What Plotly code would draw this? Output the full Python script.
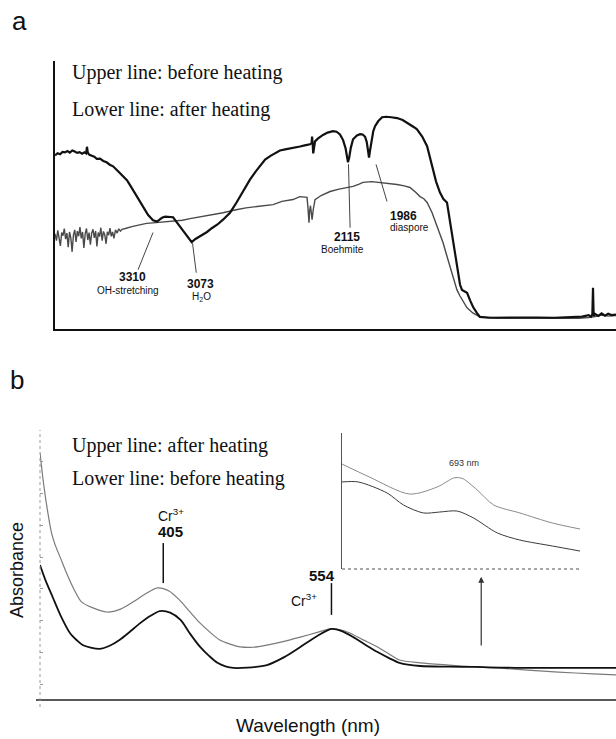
import plotly.graph_objects as go

# ---------------- Panel a : IR spectra (wavenumber, cm-1; arbitrary transmittance units)
a_before_wn = [3911, 3895, 3880, 3865, 3850, 3835, 3820, 3805, 3790, 3775,
               3760, 3745, 3730, 3720, 3715, 3710, 3700, 3685, 3670, 3655,
               3635, 3615, 3595, 3575, 3555, 3535, 3510, 3490, 3470, 3450,
               3430, 3408, 3390, 3365, 3340, 3310, 3285, 3270, 3255, 3236,
               3210, 3187, 3163, 3140, 3120, 3100, 3073, 3050, 3020, 2979,
               2950, 2915, 2881, 2838, 2800, 2760, 2715, 2680, 2650, 2623,
               2590, 2560, 2532, 2500, 2470, 2440, 2409, 2380, 2348, 2338,
               2335, 2331, 2328, 2317, 2300, 2268, 2240, 2207, 2185, 2164,
               2145, 2130, 2122, 2115, 2108, 2098, 2084, 2060, 2041, 2025,
               2010, 2000, 1992, 1986, 1980, 1970, 1960, 1949, 1930, 1906,
               1880, 1850, 1814, 1780, 1760, 1735, 1710, 1692, 1660, 1630,
               1610, 1594, 1575, 1551, 1530, 1508, 1490, 1471, 1455, 1440,
               1428, 1416, 1400, 1385, 1365, 1348, 1325, 1306, 1250, 1150,
               1050, 950, 850, 750, 680, 640, 625, 617, 613, 609,
               600, 580, 560, 540, 520, 500, 472]
a_before_t = [64.8, 65.6, 65.2, 66.1, 65.9, 66.4, 65.8, 66.6, 66.2, 65.7,
              66.0, 65.4, 65.9, 65.5, 68.0, 65.8, 65.0, 64.6, 64.3, 63.5,
              63.6, 62.7, 62.2, 61.3, 60.7, 59.5, 58.0, 56.8, 55.5, 53.6,
              51.5, 49.3, 47.2, 44.8, 42.5, 40.6, 40.1, 40.8, 41.5, 41.9,
              41.9, 41.7, 39.7, 37.8, 36.0, 34.2, 32.4, 33.6, 34.6, 36.2,
              37.6, 39.0, 40.8, 43.4, 47.0, 51.4, 55.8, 58.8, 61.3, 63.2,
              64.6, 65.6, 66.6, 67.0, 67.3, 67.6, 68.1, 68.5, 68.9, 69.4,
              71.8, 68.6, 65.5, 70.0, 71.0, 72.4, 73.3, 73.8, 73.6, 72.6,
              70.5, 67.5, 63.8, 62.2, 63.8, 67.5, 70.8, 72.2, 72.7, 72.6,
              71.7, 69.8, 66.5, 64.0, 66.5, 71.0, 73.8, 75.7, 77.5, 79.0,
              79.2, 79.0, 78.7, 78.0, 77.3, 76.4, 75.3, 74.5, 71.8, 68.2,
              63.5, 59.6, 55.0, 50.9, 48.5, 47.2, 40.0, 32.2, 25.5, 19.5,
              16.5, 14.6, 14.0, 13.5, 10.5, 8.2, 6.0, 4.5, 4.2, 4.3,
              4.2, 4.3, 4.2, 4.3, 4.6, 5.2, 4.6, 5.5, 15.4, 4.8,
              5.6, 4.9, 5.8, 5.0, 5.7, 5.2, 5.4]

a_after_wn = [3911, 3902, 3894, 3886, 3878, 3870, 3862, 3854, 3846, 3838,
              3830, 3822, 3814, 3806, 3798, 3790, 3782, 3774, 3766, 3758,
              3750, 3742, 3734, 3726, 3718, 3710, 3702, 3694, 3686, 3678,
              3670, 3662, 3654, 3646, 3638, 3630, 3622, 3614, 3606, 3598,
              3590, 3582, 3574, 3566, 3558, 3550, 3540, 3530, 3520, 3510,
              3500, 3480, 3460, 3440, 3420, 3390, 3350, 3310, 3285, 3240,
              3187, 3130, 3083, 3000, 2940, 2881, 2800, 2740, 2672, 2620,
              2574, 2520, 2452, 2410, 2380, 2366, 2360, 2354, 2350, 2345,
              2340, 2335, 2328, 2317, 2280, 2225, 2170, 2121, 2084, 2050,
              2023, 1970, 1918, 1860, 1814, 1770, 1735, 1700, 1673, 1650,
              1630, 1600, 1569, 1550, 1532, 1510, 1489, 1470, 1447, 1430,
              1416, 1400, 1385, 1350, 1306, 1200, 1100, 1000, 900, 800,
              700, 640, 600, 560, 520, 472]
a_after_t = [35.5, 33.0, 36.8, 34.2, 31.0, 36.0, 34.8, 37.5, 33.5, 35.8,
             30.5, 36.2, 34.0, 28.8, 35.0, 37.0, 32.5, 36.5, 34.6, 38.0,
             33.8, 36.2, 30.2, 35.5, 37.5, 33.2, 36.0, 31.5, 35.8, 37.2,
             34.0, 36.5, 30.8, 36.0, 34.5, 37.8, 33.0, 36.4, 35.2, 31.8,
             36.3, 35.0, 37.6, 34.6, 36.2, 33.8, 37.0, 35.8, 37.4, 36.5,
             37.2, 37.5, 38.0, 38.2, 38.5, 39.0, 39.4, 39.6, 39.7, 39.9,
             40.1, 40.6, 41.2, 42.0, 42.7, 43.4, 44.5, 45.2, 45.7, 46.0,
             46.4, 47.6, 48.3, 49.4, 49.2, 49.1, 45.0, 39.7, 44.0, 46.0,
             43.5, 40.8, 44.5, 48.3, 49.8, 51.3, 52.2, 52.8, 53.2, 54.0,
             54.7, 55.0, 54.7, 54.4, 53.9, 53.4, 52.8, 51.0, 49.4, 48.6,
             47.2, 43.5, 38.2, 35.0, 32.2, 27.5, 23.2, 18.5, 14.6, 12.5,
             10.9, 9.5, 7.9, 6.0, 4.5, 4.1, 4.0, 4.1, 4.0, 4.1,
             4.0, 4.3, 4.6, 5.2, 4.8, 5.0]

# ---------------- Panel b : UV-Vis absorbance (wavelength, nm)
b_after_wl = [300, 303, 306, 310, 313, 318, 323, 330, 336, 346,
              358, 370, 381, 392, 402, 412, 421, 430, 439, 448,
              456, 465, 474, 485, 497, 510, 526, 540, 552, 560,
              569, 580, 593, 603, 612, 630, 655, 679, 700, 723,
              750, 780, 800]
b_after_abs = [0.728, 0.634, 0.558, 0.476, 0.440, 0.395, 0.350, 0.295, 0.259, 0.240,
               0.227, 0.236, 0.259, 0.285, 0.303, 0.293, 0.265, 0.228, 0.192, 0.162,
               0.139, 0.126, 0.117, 0.116, 0.123, 0.133, 0.148, 0.162, 0.174, 0.172,
               0.161, 0.140, 0.117, 0.095, 0.076, 0.067, 0.060, 0.054, 0.050, 0.044,
               0.038, 0.032, 0.029]

b_before_wl = [300, 305, 311, 318, 326, 332, 337, 344, 352, 360,
               369, 378, 387, 396, 404, 413, 422, 430, 439, 447,
               454, 461, 468, 480, 497, 512, 526, 540, 553, 562,
               572, 582, 593, 603, 612, 630, 655, 679, 700, 723,
               760, 800]
b_before_abs = [0.375, 0.325, 0.274, 0.215, 0.161, 0.138, 0.123, 0.115, 0.111, 0.120,
                0.139, 0.165, 0.192, 0.215, 0.230, 0.225, 0.202, 0.160, 0.117, 0.088,
                0.067, 0.056, 0.051, 0.052, 0.060, 0.085, 0.117, 0.150, 0.174, 0.167,
                0.148, 0.125, 0.101, 0.082, 0.067, 0.057, 0.055, 0.054, 0.052, 0.051,
                0.051, 0.051]

# ---------------- Inset (enlarged 600-790 nm region)
inset_after_wl = [600, 622, 654, 676, 689, 693, 697, 708, 721, 742, 768, 790]
inset_after = [0.772, 0.676, 0.551, 0.603, 0.669, 0.672, 0.662, 0.581, 0.471, 0.412, 0.338, 0.294]
inset_before_wl = [600, 613, 636, 649, 665, 678, 692, 705, 724, 742, 768, 790]
inset_before = [0.640, 0.640, 0.559, 0.471, 0.412, 0.419, 0.426, 0.375, 0.265, 0.213, 0.169, 0.132]

W, H = 616, 739
SERIF = "Liberation Serif, Times New Roman, serif"
SANS = "Liberation Sans, Arial, sans-serif"

def px(x):
    return x / W

def py(y):
    return 1 - y / H

fig = go.Figure()

# panel a traces
fig.add_trace(go.Scatter(x=a_after_wn, y=a_after_t, mode="lines",
                         line=dict(color="#4a4a4a", width=1.4), xaxis="x", yaxis="y"))
fig.add_trace(go.Scatter(x=a_before_wn, y=a_before_t, mode="lines",
                         line=dict(color="#111111", width=2.2), xaxis="x", yaxis="y"))

# panel b traces
fig.add_trace(go.Scatter(x=b_after_wl, y=b_after_abs, mode="lines",
                         line=dict(color="#7a7a7a", width=1.2, shape="spline", smoothing=0.8),
                         xaxis="x2", yaxis="y2"))
fig.add_trace(go.Scatter(x=b_before_wl, y=b_before_abs, mode="lines",
                         line=dict(color="#111111", width=1.8, shape="spline", smoothing=0.8),
                         xaxis="x2", yaxis="y2"))

# inset traces
fig.add_trace(go.Scatter(x=inset_after_wl, y=inset_after, mode="lines",
                         line=dict(color="#8a8a8a", width=1.0, shape="spline", smoothing=0.8),
                         xaxis="x3", yaxis="y3"))
fig.add_trace(go.Scatter(x=inset_before_wl, y=inset_before, mode="lines",
                         line=dict(color="#3a3a3a", width=1.0, shape="spline", smoothing=0.8),
                         xaxis="x3", yaxis="y3"))

hidden = dict(showgrid=False, zeroline=False, showticklabels=False, ticks="")

fig.update_layout(
    width=W, height=H,
    margin=dict(l=0, r=0, t=0, b=0),
    paper_bgcolor="white", plot_bgcolor="rgba(0,0,0,0)",
    showlegend=False,
    hovermode=False,
    xaxis=dict(domain=[px(55), 1.0], range=[3911, 472], anchor="y",
               showline=True, linecolor="#111", linewidth=2, **hidden),
    yaxis=dict(domain=[py(329), py(61)], range=[0, 100], anchor="x",
               showline=True, linecolor="#111", linewidth=2, **hidden),
    xaxis2=dict(domain=[px(40), 1.0], range=[300, 800], anchor="y2",
                showline=False, **hidden),
    yaxis2=dict(domain=[py(700), py(430)], range=[-0.05, 0.8], anchor="x2",
                showline=False, showgrid=False, zeroline=False, showticklabels=False,
                ticks="inside", ticklen=3, tickwidth=1, tickcolor="#999",
                tickvals=[0, 0.1, 0.2, 0.3, 0.4, 0.5, 0.6, 0.7]),
    xaxis3=dict(domain=[px(342), px(580)], range=[600, 790], anchor="y3",
                showline=False, **hidden),
    yaxis3=dict(domain=[py(569), py(433)], range=[0, 1], anchor="x3",
                showline=True, linecolor="#555", linewidth=1, **hidden),
)

shapes = [
    # panel b axes
    dict(type="line", xref="x2 domain", yref="y2 domain", x0=-0.007, x1=1, y0=0, y1=0,
         line=dict(color="#222", width=1.5)),
    dict(type="line", xref="x2 domain", yref="y2 domain", x0=0, x1=0, y0=-0.026, y1=1,
         line=dict(color="#9a9a9a", width=1, dash="dot")),
    # inset bottom axis
    dict(type="line", xref="x3 domain", yref="y3 domain", x0=0, x1=1, y0=0, y1=0,
         line=dict(color="#8a8a8a", width=1.5, dash="dot")),
    # panel a leader lines
    dict(type="line", xref="x", yref="y", x0=3402, y0=22.1, x1=3310, y1=36.0,
         line=dict(color="#444", width=1)),
    dict(type="line", xref="x", yref="y", x0=3045, y0=21.0, x1=3068, y1=32.0,
         line=dict(color="#444", width=1)),
    dict(type="line", xref="x", yref="y", x0=2102, y0=37.8, x1=2112, y1=61.5,
         line=dict(color="#444", width=1)),
    dict(type="line", xref="x", yref="y", x0=1876, y0=47.6, x1=1943, y1=61.4,
         line=dict(color="#444", width=1)),
    # panel b peak marker lines
    dict(type="line", xref="x2", yref="y2", x0=407, x1=407, y0=0.318, y1=0.444,
         line=dict(color="#111", width=1.5)),
    dict(type="line", xref="x2", yref="y2", x0=553, x1=553, y0=0.218, y1=0.318,
         line=dict(color="#111", width=1.5)),
]
fig.update_layout(shapes=shapes)

ann = []
def add(text, x, y, size, family=SANS, xref="paper", yref="paper", xanchor="center",
        color="#111", angle=0):
    ann.append(dict(text=text, x=x, y=y, xref=xref, yref=yref, showarrow=False,
                    xanchor=xanchor, yanchor="middle", textangle=angle,
                    font=dict(size=size, family=family, color=color)))

# panel letters
add("a", px(19), py(21), 26)
add("b", px(17), py(380), 26)

# panel a legend text
add("Upper line: before heating", px(70), py(73), 20, SERIF, xanchor="left")
add("Lower line: after heating", px(70), py(110), 20, SERIF, xanchor="left")

# panel a band labels (data coordinates)
add("<b>3310</b>", 3439, 19.4, 12, xref="x", yref="y")
add("OH-stretching", 3463, 14.4, 10, xref="x", yref="y")
add("<b>3073</b>", 3022, 16.9, 12, xref="x", yref="y")
add("H<sub>2</sub>O", 3016, 11.8, 10, xref="x", yref="y")
add("<b>2115</b>", 2121, 34.4, 12, xref="x", yref="y")
add("Boehmite", 2151, 29.8, 10, xref="x", yref="y")
add("<b>1986</b>", 1869, 42.2, 12, xref="x", yref="y", xanchor="left")
add("diaspore", 1869, 37.8, 10, xref="x", yref="y", xanchor="left")

# panel b legend text
add("Upper line: after heating", px(70), py(445), 20, SERIF, xanchor="left")
add("Lower line: before heating", px(70), py(478), 20, SERIF, xanchor="left")

# panel b peak labels
add("Cr<sup>3+</sup>", 414, 0.533, 14, xref="x2", yref="y2")
add("<b>405</b>", 413, 0.482, 15, xref="x2", yref="y2")
add("<b>554</b>", 545, 0.342, 15, xref="x2", yref="y2")
add("Cr<sup>3+</sup>", 529, 0.264, 14, xref="x2", yref="y2")

# inset label
add("693 nm", 697, 0.78, 9, xref="x3", yref="y3", color="#333")

# axis titles
add("Wavelength (nm)", px(308), py(725), 19)
add("Absorbance", px(17), py(570), 18, angle=-90)

# arrow pointing to inset
ann.append(dict(x=683, y=0.338, ax=683, ay=0.117, xref="x2", yref="y2",
                axref="x2", ayref="y2", showarrow=True, arrowhead=2, arrowsize=1,
                arrowwidth=1.2, arrowcolor="#333", text=""))

fig.update_layout(annotations=ann)

fig.write_html(
    "out.html",
    config={"displayModeBar": False, "staticPlot": True},
    post_script="document.body.style.margin='0';document.body.style.padding='0';"
                "document.documentElement.style.overflow='hidden';",
)
